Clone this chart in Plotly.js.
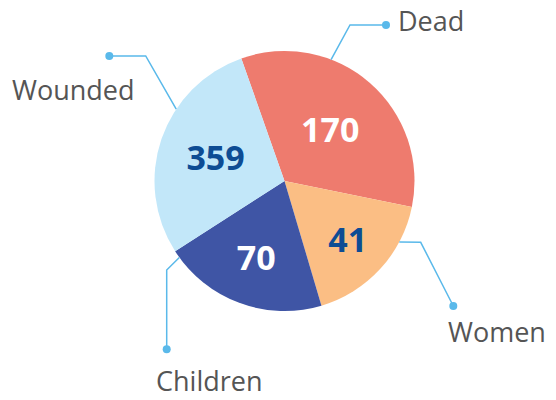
<!DOCTYPE html>
<html><head><meta charset="utf-8">
<script src="https://cdn.plot.ly/plotly-3.0.1.min.js"></script>
<style>html,body{margin:0;padding:0;background:#fff}</style>
</head><body><div id="chart" style="width:556px;height:400px"></div>
<script>
// Data
const labels = ['Dead', 'Women', 'Children', 'Wounded'];
const counts = [170, 41, 70, 359];
// slice sizes (% of the circle) as drawn in the picture
const shares = [33.6, 17.2, 20.5, 28.7];
const sliceColors = ['#EE7B6E', '#FBBE84', '#3F55A5', '#C2E7F9'];
const countColors = ['#FFFFFF', '#0D4C94', '#FFFFFF', '#0D4C94'];

const W = 556, H = 400, CX = 284.5, CY = 181, R = 130;
const px = x => x / W, py = y => 1 - y / H;
const rim = deg => [CX + R * Math.sin(deg * Math.PI / 180), CY - R * Math.cos(deg * Math.PI / 180)];

const leaders = [
  {a: 21,    elbow: [350, 25],      dot: [386, 25],      tx: 397, ty: 21,  anchor: 'left',   va: 'middle'},
  {a: 118,   elbow: [420.7, 242.3], dot: [453.3, 306],   tx: 447, ty: 331, anchor: 'left',   va: 'middle'},
  {a: 234,   elbow: [166.7, 270],   dot: [166.7, 349.3], tx: 209, ty: 400, anchor: 'center', va: 'bottom'},
  {a: 303.6, elbow: [145.7, 56],    dot: [109.3, 56],    tx: 136, ty: 90,  anchor: 'right',  va: 'middle'}
];
const lineColor = '#5AB9EA';
const shapes = [], annotations = [];
leaders.forEach((L, i) => {
  const s = rim(L.a);
  shapes.push({type: 'path', xref: 'paper', yref: 'paper',
    path: `M ${px(s[0])} ${py(s[1])} L ${px(L.elbow[0])} ${py(L.elbow[1])} L ${px(L.dot[0])} ${py(L.dot[1])}`,
    line: {color: lineColor, width: 1.5}});
  const dr = 4;
  shapes.push({type: 'circle', xref: 'paper', yref: 'paper',
    x0: px(L.dot[0] - dr), x1: px(L.dot[0] + dr), y0: py(L.dot[1] + dr), y1: py(L.dot[1] - dr),
    fillcolor: lineColor, line: {width: 0}});
  annotations.push({xref: 'paper', yref: 'paper', x: px(L.tx), y: py(L.ty), xanchor: L.anchor, yanchor: L.va,
    borderpad: 0, text: labels[i], showarrow: false,
    font: {family: 'Open Sans', size: 27, color: '#555555'}});
});

const trace = {
  type: 'pie', labels: labels, values: shares, text: counts,
  sort: false, direction: 'clockwise', rotation: -19.4,
  marker: {colors: sliceColors, line: {width: 0}},
  textinfo: 'text', texttemplate: '<b>%{text}</b>', textposition: 'inside',
  insidetextorientation: 'horizontal',
  textfont: {family: 'Open Sans', size: 34, color: countColors},
  hoverinfo: 'label+text',
  domain: {x: [px(CX - R), px(CX + R)], y: [py(CY + R), py(CY - R)]}
};

Plotly.newPlot('chart', [trace], {
  width: W, height: H, margin: {l: 0, r: 0, t: 0, b: 0},
  paper_bgcolor: '#FFFFFF', showlegend: false,
  shapes: shapes, annotations: annotations
}, {displayModeBar: false});
</script></body></html>
